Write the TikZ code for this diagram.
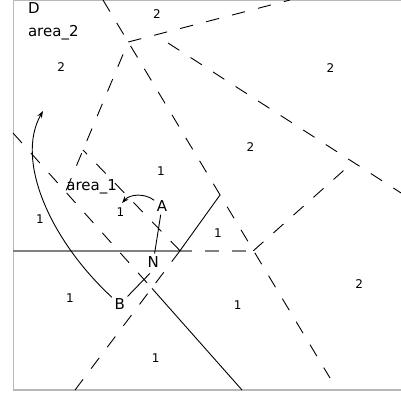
\documentclass[tikz,border=0pt]{standalone}
\usepackage{fontspec}
\setmainfont{DejaVu Sans}
\usetikzlibrary{arrows.meta}
\begin{document}
\begin{tikzpicture}[x=1bp,y=-1bp,
  vor/.style={line width=0.9bp, dash pattern=on 13.4bp off 13.4bp},
  sol/.style={line width=0.9bp},
  hline/.style={line width=2bp, draw=black!50},
  boxline/.style={line width=1.3bp, draw=black!28},
  big/.style={font=\fontsize{15bp}{18bp}\selectfont, inner sep=2.5bp},
  num/.style={font=\fontsize{12bp}{14bp}\selectfont, inner sep=0pt},
  arr/.style={line width=0.9bp, -{Stealth[length=7bp,width=5bp]}}
]
\useasboundingbox (0,0) rectangle (401,396);
\clip (0,0) rectangle (401,396);

% frame
\draw[boxline] (403,0.7) -- (13.3,0.7) -- (13.3,390) -- (403,390);

% vertices and ends
\coordinate (V1) at (128.2,42);
\coordinate (L1a) at (103,0);
\coordinate (L1b) at (330,378);
\coordinate (L2b) at (290,0);
\coordinate (L3a) at (168,43);
\coordinate (L3b) at (405,195.5);
\coordinate (V2) at (65.5,191.9);
\coordinate (L5a) at (13,133);
\coordinate (V5) at (152,288.4);
\coordinate (L5b) at (242,390);
\coordinate (V3) at (253.4,250.7);
\coordinate (V4) at (353,162.2);
\coordinate (J) at (180,250.7);
\coordinate (L6b) at (83,150);
\coordinate (L7a) at (75,390);
\coordinate (L7b) at (220,195);
\coordinate (H0) at (13,250.7);
\coordinate (H1) at (192,250.7);

% horizontal gray line
\draw[hline] (H0) -- (H1);
\draw[hline, dash pattern=on 13.4bp off 13.4bp, dash phase=13.4bp] (H1) -- (V3);

% dashed edges
\draw[vor] (L1a) -- (L1b);
\draw[vor] (V1) -- (L2b);
\draw[vor] (L3a) -- (L3b);
\draw[vor, dash phase=13.4bp] (V1) -- (V2);
\draw[vor] (L5a) -- (V5);
\draw[vor] (J) -- (L6b);
\draw[vor] (L7a) -- (J);
\draw[vor] (V3) -- (V4);

% solid segments
\draw[sol] (J) -- (L7b);
\draw[sol] (V5) -- (L5b);

% labels
\node[big] (D) at (34,7.8) {D};
\node[big] (ar2) at (53.3,32.5) {area\_2};
\node[big] (ar1) at (91.7,187) {area\_1};
\node[big] (A) at (162,206.5) {A};
\node[big] (N) at (153.3,261.7) {N};
\node[big] (B) at (119.7,304.5) {B};

\node[num] (n1) at (157,14.3) {2};
\node[num] (n2) at (61.3,67) {2};
\node[num] (n3) at (330.5,68) {2};
\node[num] (n4) at (250.5,147.2) {2};
\node[num] (n5) at (359.2,283.7) {2};
\node[num] (n6) at (161,171.2) {1};
\node[num] (n7) at (120.5,212.5) {1};
\node[num] (n8) at (40,219.5) {1};
\node[num] (n9) at (218,232.8) {1};
\node[num] (n10) at (70,298.3) {1};
\node[num] (n11) at (237.8,304.7) {1};
\node[num] (n12) at (155.8,358) {1};

% connectors
\draw[sol] (A) -- (N);
\draw[sol, shorten >=5bp] (B) -- (N.south);
\coordinate (a1tip) at (122,203);
\draw[arr] (A) .. controls (145,193) and (130,194) .. (a1tip);
\coordinate (a2tip) at (43,111);
\draw[arr] (B) .. controls (50,240) and (15,160) .. (a2tip);
\end{tikzpicture}
\end{document}
